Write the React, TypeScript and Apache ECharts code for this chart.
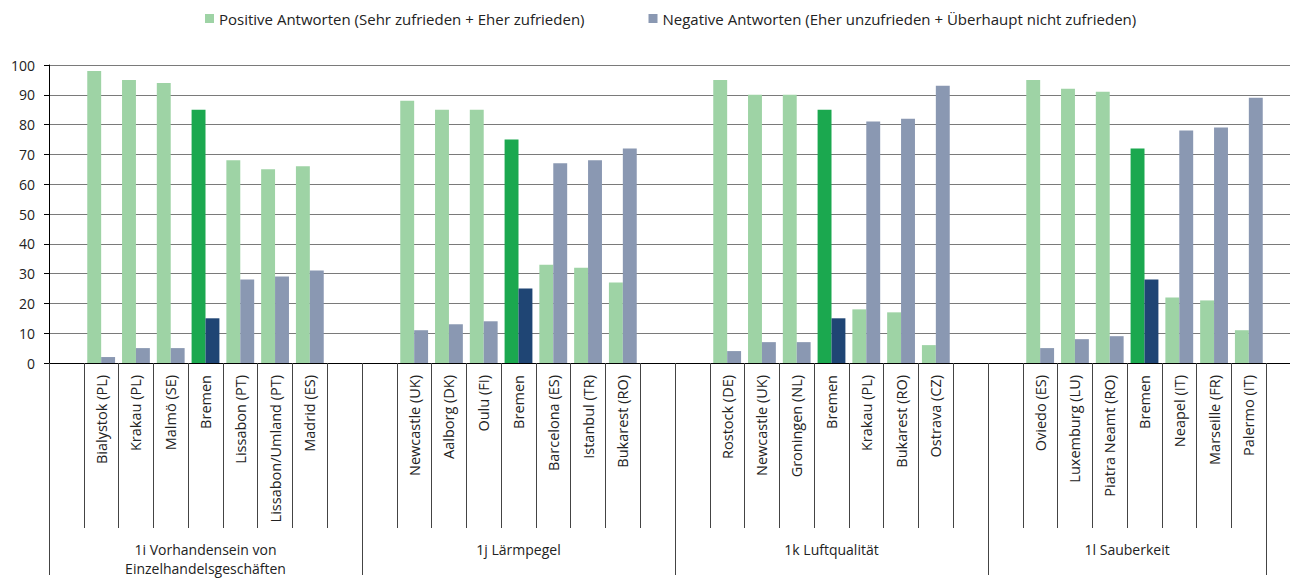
import React, { useEffect, useRef } from "react";
import * as echarts from "echarts";

const groupNames = [
  "1i Vorhandensein von\nEinzelhandelsgeschäften",
  "1j Lärmpegel",
  "1k Luftqualität",
  "1l Sauberkeit",
];

const citiesRetail = ["Bialystok (PL)", "Krakau (PL)", "Malmö (SE)", "Bremen", "Lissabon (PT)", "Lissabon/Umland (PT)", "Madrid (ES)"];
const positiveRetail = [98, 95, 94, 85, 68, 65, 66];
const negativeRetail = [2, 5, 5, 15, 28, 29, 31];

const citiesNoise = ["Newcastle (UK)", "Aalborg (DK)", "Oulu (FI)", "Bremen", "Barcelona (ES)", "Istanbul (TR)", "Bukarest (RO)"];
const positiveNoise = [88, 85, 85, 75, 33, 32, 27];
const negativeNoise = [11, 13, 14, 25, 67, 68, 72];

const citiesAir = ["Rostock (DE)", "Newcastle (UK)", "Groningen (NL)", "Bremen", "Krakau (PL)", "Bukarest (RO)", "Ostrava (CZ)"];
const positiveAir = [95, 90, 90, 85, 18, 17, 6];
const negativeAir = [4, 7, 7, 15, 81, 82, 93];

const citiesClean = ["Oviedo (ES)", "Luxemburg (LU)", "Piatra Neamt (RO)", "Bremen", "Neapel (IT)", "Marseille (FR)", "Palermo (IT)"];
const positiveClean = [95, 92, 91, 72, 22, 21, 11];
const negativeClean = [5, 8, 9, 28, 78, 79, 89];

const yTicks = [0, 10, 20, 30, 40, 50, 60, 70, 80, 90, 100];

const legendPositive = "Positive Antworten (Sehr zufrieden + Eher zufrieden)";
const legendNegative = "Negative Antworten (Eher unzufrieden + Überhaupt nicht zufrieden)";

const COL_POS = "#9ed3a5";
const COL_NEG = "#8a98b2";
const COL_POS_HL = "#1ba84f";
const COL_NEG_HL = "#1f4574";

export default function App() {
  const ref = useRef<HTMLDivElement>(null);

  useEffect(() => {
    if (!ref.current) return;
    const chart = echarts.init(ref.current, null, { renderer: "svg" });

    const groups = [
      { cities: citiesRetail, pos: positiveRetail, neg: negativeRetail },
      { cities: citiesNoise, pos: positiveNoise, neg: negativeNoise },
      { cities: citiesAir, pos: positiveAir, neg: negativeAir },
      { cities: citiesClean, pos: positiveClean, neg: negativeClean },
    ];

    const cats: string[] = [];
    const posData: any[] = [];
    const negData: any[] = [];
    groups.forEach((g) => {
      cats.push("");
      posData.push(null);
      negData.push(null);
      g.cities.forEach((c, i) => {
        cats.push(c);
        const hl = c === "Bremen";
        posData.push({ value: g.pos[i], itemStyle: { color: hl ? COL_POS_HL : COL_POS } });
        negData.push({ value: g.neg[i], itemStyle: { color: hl ? COL_NEG_HL : COL_NEG } });
      });
      cats.push("");
      posData.push(null);
      negData.push(null);
    });

    const groupLabelPos = [4.5, 13.5, 22.5, 31];
    const groupBoundaries = [0, 9, 18, 27, 35];

    const font = "'Open Sans', sans-serif";

    chart.setOption({
      animation: false,
      textStyle: { fontFamily: font, color: "#222" },
      legend: {
        top: 6,
        left: 200,
        itemWidth: 9,
        itemHeight: 9,
        itemGap: 64,
        icon: "rect",
        textStyle: { fontFamily: font, fontSize: 15, color: "#222" },
        data: [legendPositive, legendNegative],
      },
      grid: { left: 49, right: 0, top: 65, bottom: 212, containLabel: false },
      xAxis: [
        {
          type: "category",
          data: cats,
          boundaryGap: true,
          axisLine: { show: true, lineStyle: { color: "#000", width: 1 } },
          axisTick: { show: true, interval: 0, length: 165, lineStyle: { color: "#444", width: 1 } },
          axisLabel: {
            interval: 0,
            rotate: 90,
            margin: 12,
            fontSize: 14.5,
            fontFamily: font,
            color: "#222",
          },
          splitLine: { show: false },
        },
        {
          type: "value",
          min: 0,
          max: 36,
          position: "bottom",
          axisLine: { show: false },
          splitLine: { show: false },
          axisTick: {
            show: true,
            customValues: groupBoundaries,
            length: 212,
            lineStyle: { color: "#444", width: 1 },
          },
          axisLabel: {
            customValues: groupLabelPos,
            margin: 177,
            fontSize: 14,
            lineHeight: 19,
            verticalAlign: "top",
            fontFamily: font,
            color: "#222",
            formatter: (v: number) => {
              const idx = groupLabelPos.indexOf(v);
              return idx >= 0 ? groupNames[idx] : "";
            },
          },
        },
      ],
      yAxis: {
        type: "value",
        min: 0,
        max: 100,
        interval: 10,
        axisLine: { show: true, lineStyle: { color: "#000", width: 1 } },
        axisTick: { show: true, length: 5, lineStyle: { color: "#000" } },
        axisLabel: {
          margin: 14,
          fontSize: 14,
          fontFamily: font,
          color: "#222",
          customValues: yTicks,
        },
        splitLine: { show: true, lineStyle: { color: "#7a7a7a", width: 1 } },
      },
      series: [
        {
          name: legendPositive,
          type: "bar",
          data: posData,
          itemStyle: { color: COL_POS },
          barGap: "0%",
          barCategoryGap: "20%",
        },
        {
          name: legendNegative,
          type: "bar",
          data: negData,
          itemStyle: { color: COL_NEG },
          barGap: "0%",
          barCategoryGap: "20%",
        },
      ],
    });

    return () => chart.dispose();
  }, []);

  return (
    <div
      ref={ref}
      style={{ position: "fixed", left: 0, top: 0, width: 1301, height: 578, background: "#fff" }}
    />
  );
}
